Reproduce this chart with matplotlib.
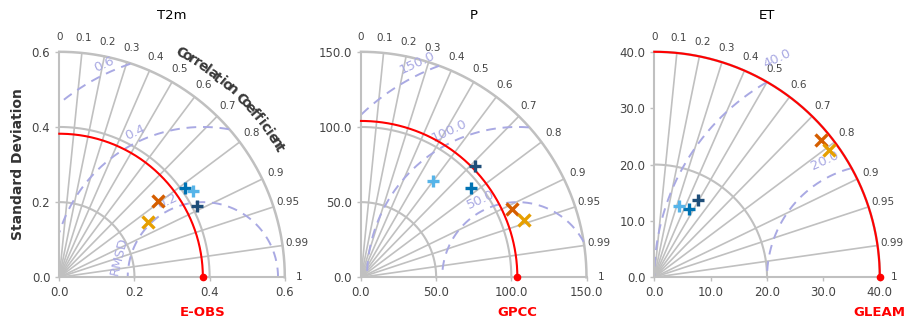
import numpy as np
import matplotlib
matplotlib.use('Agg')
import matplotlib.pyplot as plt

# ---------------- data ----------------
titles = ['T2m', 'P', 'ET']
ref_names = ['E-OBS', 'GPCC', 'GLEAM']
ref_std = [0.382, 104.0, 40.0]
max_std = [0.6, 150.0, 40.0]
std_arcs = [[0.2, 0.4, 0.6], [50.0, 100.0, 150.0], [20.0, 40.0]]
axis_ticks = [[0.0, 0.2, 0.4, 0.6], [0.0, 50.0, 100.0, 150.0], [0.0, 10.0, 20.0, 30.0, 40.0]]
rms_levels = [[0.2, 0.4, 0.6], [50.0, 100.0, 150.0], [20.0, 40.0]]
corr_ticks = [0, 0.1, 0.2, 0.3, 0.4, 0.5, 0.6, 0.7, 0.8, 0.9, 0.95, 0.99, 1]
corr_labels = ['0', '0.1', '0.2', '0.3', '0.4', '0.5', '0.6', '0.7', '0.8', '0.9', '0.95', '0.99', '1']

model_colors = ['#1f4e79', '#0072B2', '#56B4E9', '#D55E00', '#E69F00']
model_markers = ['+', '+', '+', 'x', 'x']
t2m_std = [0.412, 0.410, 0.424, 0.331, 0.278]
t2m_corr = [0.887, 0.815, 0.840, 0.791, 0.851]
p_std = [106.2, 94.4, 80.1, 110.4, 114.7]
p_corr = [0.716, 0.778, 0.602, 0.912, 0.943]
et_std = [15.77, 13.60, 13.36, 38.36, 38.46]
et_corr = [0.496, 0.457, 0.329, 0.772, 0.808]
panel_std = [t2m_std, p_std, et_std]
panel_corr = [t2m_corr, p_corr, et_corr]

# ---------------- style ----------------
GREY = '#c0c0c0'
RMS_C = '#a9a9e3'
TXT = '#444444'
lefts = [59.3 / 911, 361 / 911, 654.3 / 911]
bottom = (330 - 277.3) / 330
w = 225.5 / 911
h = 225.5 / 330
label_off = [0.04, 0.048, 0.072]

fig = plt.figure(figsize=(9.11, 3.3), dpi=100)

for i in range(3):
    R = max_std[i]
    ref = ref_std[i]
    ax = fig.add_axes([lefts[i], bottom, w, h])
    ax.set_xlim(0, R)
    ax.set_ylim(0, R)
    ax.set_aspect('equal')
    for s in ['top', 'right']:
        ax.spines[s].set_visible(False)
    for s in ['left', 'bottom']:
        ax.spines[s].set_color(GREY)
        ax.spines[s].set_linewidth(1.5)
    ax.set_xticks(axis_ticks[i])
    ax.set_yticks(axis_ticks[i])
    ax.set_xticklabels(['{:.1f}'.format(t) for t in axis_ticks[i]])
    ax.set_yticklabels(['{:.1f}'.format(t) for t in axis_ticks[i]])
    ax.tick_params(colors=GREY, labelcolor=TXT, labelsize=8.5, length=3, width=1)
    ax.patch.set_alpha(0)

    th = np.linspace(0, np.pi / 2, 300)
    # std arcs
    for r in std_arcs[i]:
        lw = 1.8 if abs(r - R) < 1e-9 else 1.5
        ax.plot(r * np.cos(th), r * np.sin(th), color=GREY, lw=lw, clip_on=False, zorder=1)
    # correlation radial lines
    for c, lab in zip(corr_ticks, corr_labels):
        a = np.arccos(c)
        if 0 < c < 1:
            ax.plot([0, R * np.cos(a)], [0, R * np.sin(a)], color=GREY, lw=1.2, zorder=1)
        ax.text(1.065 * R * np.cos(a), 1.065 * R * np.sin(a), lab, ha='center', va='center',
                fontsize=7.5, color=TXT, clip_on=False)
    # RMSD contours
    phi = np.linspace(0, np.pi, 600)
    for k, r in enumerate(rms_levels[i]):
        x = ref + r * np.cos(phi)
        y = r * np.sin(phi)
        mask = (x < 0) | (x ** 2 + y ** 2 > R ** 2)
        x = np.where(mask, np.nan, x)
        y = np.where(mask, np.nan, y)
        ax.plot(x, y, color=RMS_C, lw=1.4, dashes=(5, 3.5), zorder=2)
        ang = np.deg2rad(115)
        rl = r + label_off[i] * R
        ax.text(ref + rl * np.cos(ang), rl * np.sin(ang), '{:.1f}'.format(r), rotation=25,
                ha='center', va='center', fontsize=9.5, color=RMS_C, rotation_mode='anchor', zorder=3)
    if i == 0:
        ang = np.deg2rad(166)
        rl = 0.23
        ax.text(ref + rl * np.cos(ang), rl * np.sin(ang), 'RMSD', rotation=76,
                ha='center', va='center', fontsize=9.5, color=RMS_C, rotation_mode='anchor', zorder=3)
        # curved correlation label
        txt = 'Correlation Coefficient'
        angs = np.linspace(61.5, 30.5, len(txt))
        for ch, a in zip(txt, angs):
            ar = np.deg2rad(a)
            ax.text(1.13 * R * np.cos(ar), 1.13 * R * np.sin(ar), ch, rotation=a - 90,
                    ha='center', va='center', fontsize=10, fontweight='bold', color='#3a3a3a',
                    clip_on=False, rotation_mode='anchor')
        ax.set_ylabel('Standard Deviation', fontsize=10, fontweight='bold', color='#333333', labelpad=5)
    # reference
    ax.plot(ref * np.cos(th), ref * np.sin(th), color='red', lw=1.5, clip_on=False, zorder=4)
    ax.plot([ref], [0], 'o', color='red', ms=4.5, clip_on=False, zorder=5)
    ax.text(ref, -0.155 * R, ref_names[i], ha='center', va='center', color='red',
            fontsize=9.5, fontweight='bold', clip_on=False)
    # models
    for s, c, col, m in zip(panel_std[i], panel_corr[i], model_colors, model_markers):
        ax.plot([s * c], [s * np.sqrt(1 - c ** 2)], marker=m, color=col, ms=9, mew=2.4,
                linestyle='none', zorder=6, clip_on=False)
    ax.text(R / 2, 1.16 * R, titles[i], ha='center', va='center', fontsize=9.5, color='black',
            clip_on=False)

fig.savefig('out.png', dpi=100)
